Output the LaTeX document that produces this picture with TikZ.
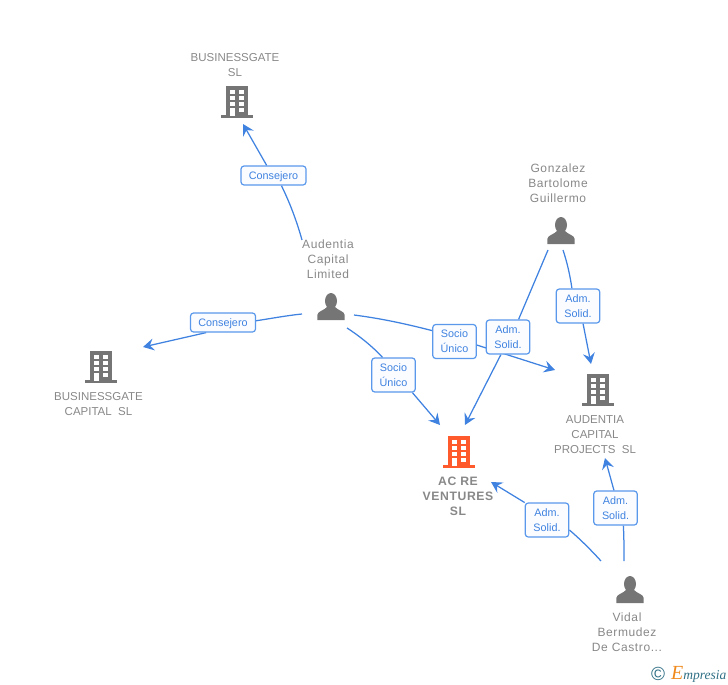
\documentclass[tikz,border=0pt]{standalone}
\usepackage{fontspec}
\setmainfont{Liberation Sans}
\newfontfamily\logofont{Liberation Serif}
\newfontfamily\widefont[LetterSpace=5]{Liberation Sans}
\newfontfamily\hubfont[LetterSpace=5]{Liberation Sans}
\usetikzlibrary{arrows.meta,backgrounds}
\definecolor{linkblue}{HTML}{3F82E0}
\definecolor{boxblue}{HTML}{5A98EC}
\definecolor{boxfill}{HTML}{FAFCFF}
\definecolor{icongray}{HTML}{757575}
\definecolor{textgray}{HTML}{888888}
\definecolor{hubred}{HTML}{FF5A2B}
\definecolor{logoteal}{HTML}{2F6F85}
\definecolor{logoorange}{HTML}{F08A1D}

\begin{document}
\begin{tikzpicture}[x=1pt,y=-1pt]
\tikzset{link/.style={draw=linkblue,line width=1.25pt}}
\tikzset{linkarrow/.style={link,-{Stealth[length=11pt,width=12pt,inset=4pt]}}}
\tikzset{tag/.style={draw=boxblue,fill=boxfill,line width=1.2pt,rounded corners=3pt,
text=linkblue,align=center,inner sep=0pt,font=\fontsize{10.8}{15}\selectfont}}
\tikzset{tagone/.style={tag,minimum width=65pt,minimum height=19pt,text height=8pt,text depth=0pt}}
\tikzset{tagtwo/.style={tag,minimum width=43.5pt,minimum height=34pt}}
\tikzset{plate/.style={text=textgray,align=center,inner sep=0pt,font=\fontsize{11.5}{15}\selectfont}}
\tikzset{wideplate/.style={plate,font=\widefont\fontsize{12}{15}\selectfont}}
\tikzset{hubplate/.style={plate,font=\hubfont\fontsize{12.2}{15}\selectfont\bfseries}}
\tikzset{building/.pic={
\fill (-11,-32) rectangle (11,-2);
\fill (-16,-3.5) rectangle (16,0);
\foreach \wy in {-28,-22,-16,-10} {
\fill[white] (-7.2,\wy) rectangle (-2.4,\wy+4.4);
\fill[white] (2.3,\wy) rectangle (7.2,\wy+4.4); }
\fill[white] (-7.2,-10) rectangle (-2.4,-2);}}
\tikzset{person/.pic={
\fill (0,-19) ellipse (6pt and 8pt);
\fill (-13.7,0) -- (-13.7,-5) .. controls (-13.2,-9) and (-7,-9.5) .. (-4,-13)
-- (4,-13) .. controls (7,-9.5) and (13.2,-9) .. (13.7,-5) -- (13.7,0) -- cycle;}}
\useasboundingbox (0,0) rectangle (728,685);

% free ends of the connectors
\coordinate (audTop) at (302,240);
\coordinate (audLeft) at (302,314);
\coordinate (audDown) at (347,328);
\coordinate (audRight) at (354,315);
\coordinate (gonLeft) at (548,250);
\coordinate (gonRight) at (563,250);
\coordinate (vidLeft) at (601,561);
\coordinate (vidTop) at (624,561);
\coordinate (tipBgsl) at (243,124);
\coordinate (tipBgcap) at (143,347);
\coordinate (tipAcreA) at (440,425);
\coordinate (tipAcreB) at (465,425);
\coordinate (tipAcreC) at (491,482);
\coordinate (tipProjA) at (555,370);
\coordinate (tipProjB) at (591,364);
\coordinate (tipProjC) at (605,458);

\pic[icongray] at (237,118) {building};
\pic[icongray] at (101,383) {building};
\pic[icongray] at (598,406) {building};
\pic[hubred] at (459,468) {building};
\pic[icongray] at (331,320) {person};
\pic[icongray] at (561,244) {person};
\pic[icongray] at (630,603) {person};

\node[plate] (bgsl) at (235,65.5) {BUSINESSGATE\\SL};
\node[plate] (bgcap) at (98.5,404.5) {BUSINESSGATE\\CAPITAL\ \ SL};
\node[plate] (proj) at (595,435) {AUDENTIA\\CAPITAL\\PROJECTS\ \ SL};
\node[hubplate] (acre) at (458,496) {AC RE\\VENTURES\\SL};
\node[wideplate] (aud) at (328,259) {Audentia\\Capital\\Limited};
\node[wideplate] (gon) at (558,183) {Gonzalez\\Bartolome\\Guillermo};
\node[wideplate] (vid) at (627,632) {Vidal\\Bermudez\\De Castro...};

\node[tagone] (consTop) at (273.5,175.5) {Consejero};
\node[tagone] (consLeft) at (223,322.5) {Consejero};
\node[tagtwo] (socioLow) at (393.5,375) {Socio\\Único};
\node[tagtwo] (socioHigh) at (454.5,341.5) {Socio\\Único};
\node[tagtwo] (admMid) at (508,337) {Adm.\\Solid.};
\node[tagtwo] (admTop) at (578,306) {Adm.\\Solid.};
\node[tagtwo] (admRight) at (615.5,508) {Adm.\\Solid.};
\node[tagtwo] (admLow) at (547,520) {Adm.\\Solid.};

\begin{scope}[on background layer]
\draw[link] (audTop) .. controls (297,222) and (290,203) .. (consTop.-52);
\draw[linkarrow] (consTop.124) -- (tipBgsl);
\draw[link] (audLeft) .. controls (287,315.5) and (271,318.5) .. (consLeft.3);
\draw[linkarrow] (consLeft.-149) -- (tipBgcap);
\draw[link] (audDown) .. controls (361,337) and (374,348) .. (socioLow.122);
\draw[linkarrow] (socioLow.-43) -- (tipAcreA);
\draw[link] (audRight) .. controls (385,319) and (410,325) .. (socioHigh.154);
\draw[linkarrow] (socioHigh.-9) -- (tipProjA);
\draw[link] (gonLeft) -- (admMid.59);
\draw[linkarrow] (admMid.-112) -- (tipAcreB);
\draw[link] (gonRight) .. controls (567,262) and (570,275) .. (admTop.109);
\draw[linkarrow] (admTop.-74) -- (tipProjB);
\draw[link] (vidTop) .. controls (624,549) and (624,536) .. (admRight.-66);
\draw[linkarrow] (admRight.95) -- (tipProjC);
\draw[link] (vidLeft) .. controls (591,550) and (580,539) .. (admLow.-24);
\draw[linkarrow] (admLow.142) -- (tipAcreC);
\end{scope}

\node[text=logoteal,inner sep=0pt,font=\fontsize{19}{19}\selectfont] (copy) at (658,674) {©};
\node[text=logoteal,anchor=base west,inner sep=0pt,font=\logofont\itshape\fontsize{13.5}{14}\selectfont] (logo) at (671,679)
{\textcolor{logoorange}{\fontsize{20}{20}\selectfont E}mpresia};
\end{tikzpicture}
\end{document}
